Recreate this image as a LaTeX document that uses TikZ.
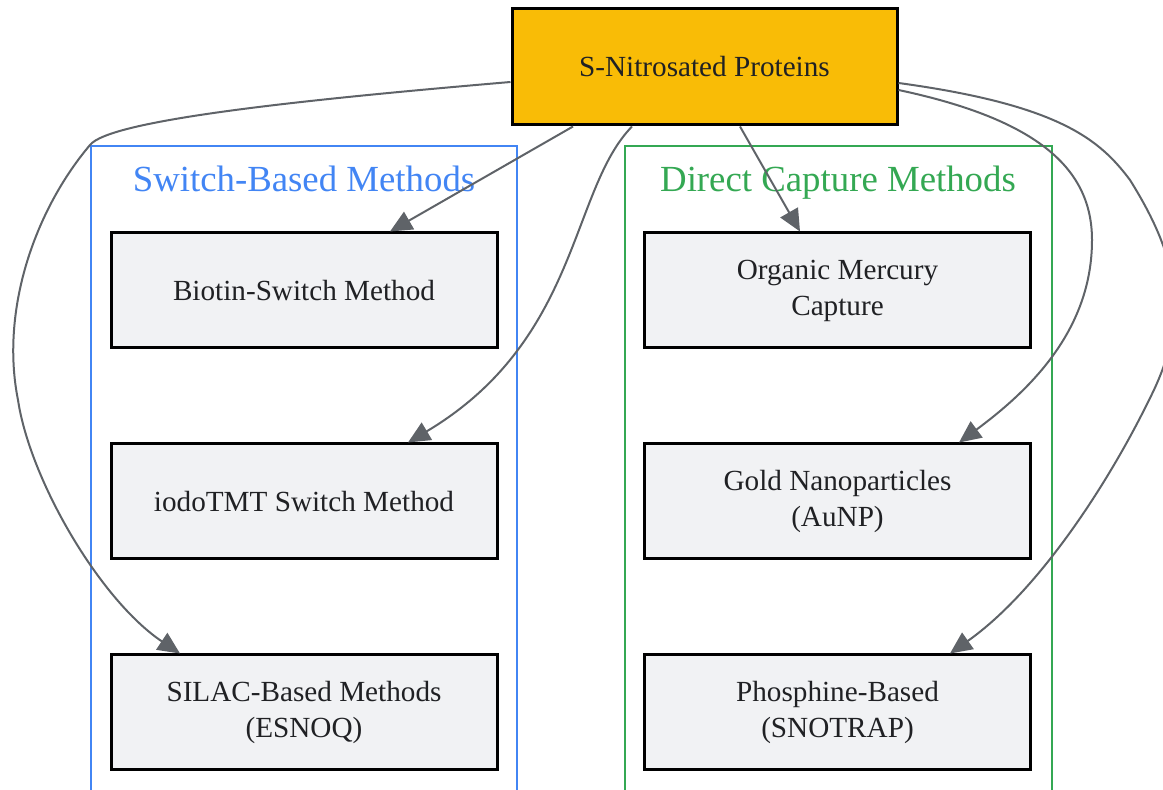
\documentclass[tikz,border=0pt]{standalone}
\usepackage{fontspec}
\setmainfont{Liberation Serif}
\usepackage{xcolor}
\usepackage{tikz}
\usetikzlibrary{arrows.meta}
\usetikzlibrary{calc}
\usetikzlibrary{positioning}
\definecolor{rootfill}{HTML}{F9BC06}
\definecolor{boxfill}{HTML}{F1F2F4}
\definecolor{switchblue}{HTML}{4285F4}
\definecolor{capturegreen}{HTML}{34A853}
\definecolor{edgegray}{HTML}{5F6368}
\definecolor{inkgray}{HTML}{202124}

\begin{document}
\begin{tikzpicture}[x=0.5pt,y=-0.5pt,>={Triangle[length=11pt,width=10pt]},node distance=105.5pt]
	\tikzstyle{meth}=[draw=black, line width=1.5pt, fill=boxfill, text=inkgray, minimum width=193pt, minimum height=57.5pt, inner sep=0pt, align=center, font=\fontsize{14.6}{18}\selectfont]
	\tikzstyle{root}=[meth, fill=rootfill, minimum width=192.5pt, minimum height=58pt]
	\tikzstyle{group}=[line width=1pt]
	\tikzstyle{grouptitle}=[anchor=base, font=\fontsize{18.4}{22}\selectfont]
	\tikzstyle{link}=[->, draw=edgegray, line width=1pt]
	\useasboundingbox (0,0) rectangle (1163,790);
	% clusters
	\draw[group, switchblue] (91,146) rectangle (517,800);
	\draw[group, capturegreen] (625,146) rectangle (1052,800);
	\node[grouptitle, text=switchblue] 		(swt) at (304,192) 		{Switch-Based Methods};
	\node[grouptitle, text=capturegreen] 	(dct) at (838,192) 		{Direct Capture Methods};
	% nodes
	\node[root] 		(sno) at (704.5,67) 		{S-Nitrosated Proteins};
	\node[meth] 		(bsm) at (304,290.5) 		{Biotin-Switch Method};
	\node[meth] 		(iodo) [below of=bsm] 		{iodoTMT Switch Method};
	\node[meth] 		(silac) [below of=iodo] 	{SILAC-Based Methods\\(ESNOQ)};
	\node[meth] 		(ohg) at (837.5,290.5) 		{Organic Mercury\\Capture};
	\node[meth] 		(aunp) [below of=ohg] 		{Gold Nanoparticles\\(AuNP)};
	\node[meth] 		(snotrap) [below of=aunp] 	{Phosphine-Based\\(SNOTRAP)};
	% edges
	\draw[link] ($(sno.south)+(-131.5,0)$) -- ($(bsm.north)+(86,0)$);
	\draw[link] ($(sno.south)+(-72.5,0)$) .. controls (570,190) and (580,340) .. ($(iodo.north)+(104,0)$);
	\draw[link] ($(sno.west)+(0,15)$) .. controls (300,100) and (110,120) .. (90,145)
		.. controls (35,210) and (0,310) .. (18,400)
		.. controls (30,480) and (100,600) .. ($(silac.north)+(-124,0)$);
	\draw[link] ($(sno.south)+(35.5,0)$) -- ($(ohg.north)+(-37.5,0)$);
	\draw[link] ($(sno.east)+(0,23)$) .. controls (1040,120) and (1092,170) .. (1092,240)
		.. controls (1092,330) and (1030,390) .. ($(aunp.north)+(121.5,0)$);
	\draw[link] ($(sno.east)+(0,16)$) .. controls (1060,105) and (1100,140) .. (1130,180)
		.. controls (1180,260) and (1190,320) .. (1149,400)
		.. controls (1110,480) and (1040,590) .. ($(snotrap.north)+(112.5,0)$);
\end{tikzpicture}
\end{document}
